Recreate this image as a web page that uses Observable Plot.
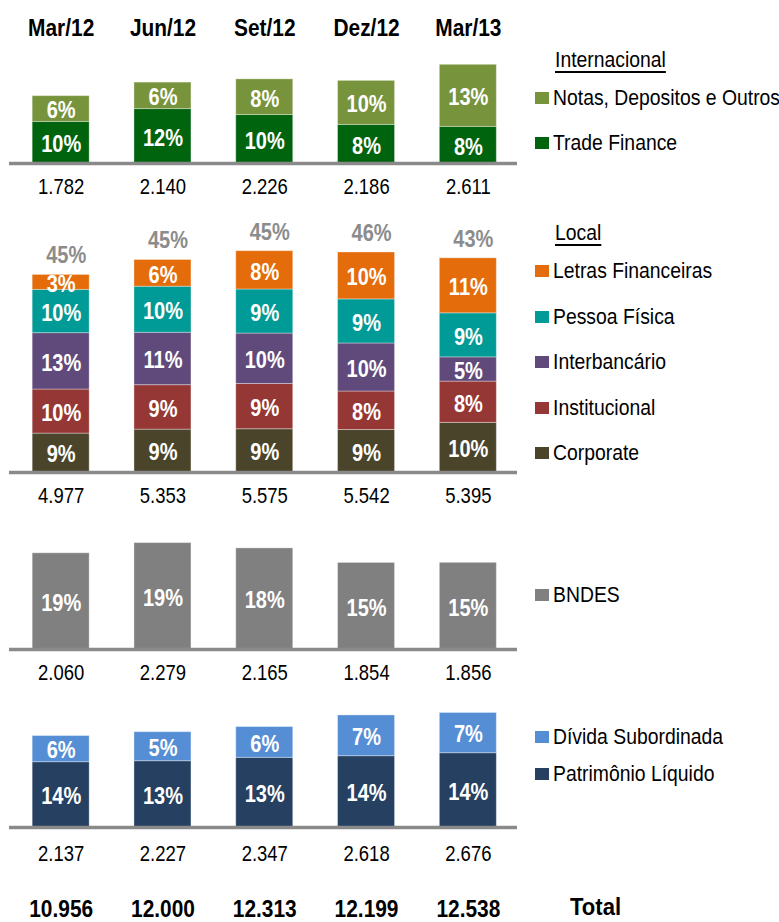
<!DOCTYPE html>
<html>
<head>
<meta charset="utf-8">
<script src="https://cdn.jsdelivr.net/npm/d3@7"></script>
<script src="https://cdn.jsdelivr.net/npm/@observablehq/plot@0.6"></script>
<style>
  html, body { margin: 0; padding: 0; background: #fff; }
  #root { position: relative; width: 779px; height: 922px; overflow: hidden;
    font-family: "Liberation Sans", Arial, sans-serif; color: #000; }
  .panel { position: absolute; left: 0; }
  .leg { position: absolute; left: 535px; font-size: 22px; line-height: 22px; white-space: nowrap; display: flex; align-items: center; }
  .leg .sw { width: 14px; height: 12px; margin-right: 4px; flex: none; }
  .leg .lt { display: inline-block; transform: scaleX(0.88); transform-origin: left center; }
  .legtitle { position: absolute; left: 555px; font-size: 22px; line-height: 22px; text-decoration: underline; text-underline-offset: 4px;
    transform: scaleX(0.88); transform-origin: left center; }
  .totlabel { position: absolute; left: 570px; font-size: 24px; font-weight: bold; line-height: 24px;
    transform: scaleX(0.92); transform-origin: left center; }
</style>
</head>
<body>
<div id="root"></div>
<script>
// ---------- data ----------
const periods = ["Mar/12", "Jun/12", "Set/12", "Dez/12", "Mar/13"];
const fundingTotal = [10956, 12000, 12313, 12199, 12538];

// Internacional
const intlSeries = ["Trade Finance", "Notas, Depositos e Outros"];
const tradeFinance = [1100, 1440, 1283, 1021, 969];
const tradeFinancePct = [10, 12, 10, 8, 8];
const notas = [682, 700, 943, 1165, 1642];
const notasPct = [6, 6, 8, 10, 13];
const intlTotal = [1782, 2140, 2226, 2186, 2611];

// Local
const localSeries = ["Corporate", "Institucional", "Interbancário", "Pessoa Física", "Letras Financeiras"];
const corporate = [980, 1080, 1090, 1070, 1250];
const corporatePct = [9, 9, 9, 9, 10];
const institucional = [1110, 1120, 1140, 970, 1040];
const institucionalPct = [10, 9, 9, 8, 8];
const interbancario = [1420, 1320, 1270, 1210, 610];
const interbancarioPct = [13, 11, 10, 10, 5];
const pessoaFisica = [1090, 1160, 1110, 1110, 1110];
const pessoaFisicaPct = [10, 10, 9, 9, 9];
const letras = [377, 673, 965, 1182, 1385];
const letrasPct = [3, 6, 8, 10, 11];
const localTotal = [4977, 5353, 5575, 5542, 5395];
const localPct = [45, 45, 45, 46, 43];

// BNDES
const bndes = [2060, 2279, 2165, 1854, 1856];
const bndesPct = [19, 19, 18, 15, 15];

// Capital
const capitalSeries = ["Patrimônio Líquido", "Dívida Subordinada"];
const patrimonio = [1526, 1549, 1628, 1666, 1736];
const patrimonioPct = [14, 13, 13, 14, 14];
const divida = [611, 678, 719, 952, 940];
const dividaPct = [6, 5, 6, 7, 7];
const capitalTotal = [2137, 2227, 2347, 2618, 2676];

const colors = {
  "Trade Finance": "#00640f",
  "Notas, Depositos e Outros": "#77933c",
  "Corporate": "#4a452a",
  "Institucional": "#953735",
  "Interbancário": "#604a7b",
  "Pessoa Física": "#009b96",
  "Letras Financeiras": "#e46c0a",
  "BNDES": "#808080",
  "Patrimônio Líquido": "#254061",
  "Dívida Subordinada": "#558ed5"
};

// ---------- helpers ----------
const fmt = d3.formatLocale({decimal: ",", thousands: ".", grouping: [3], currency: ["R$", ""]}).format(",d");
const FONT = '"Liberation Sans", Arial, sans-serif';
const root = document.getElementById("root");

function rowsOf(seriesArr) {
  const rows = [];
  seriesArr.forEach(([name, vals, pcts]) => {
    periods.forEach((p, i) => rows.push({period: p, series: name, value: vals[i], pct: pcts[i]}));
  });
  return rows;
}

// condense texts (narrow typeface look)
function condense(svg) {
  svg.querySelectorAll("text").forEach(t => {
    const bold = (t.getAttribute("font-weight") || (t.parentNode.getAttribute && t.parentNode.getAttribute("font-weight")) || "") === "bold";
    const w = t.getComputedTextLength();
    if (w > 0) {
      t.setAttribute("textLength", (w * (bold ? 0.87 : 0.84)).toFixed(2));
      t.setAttribute("lengthAdjust", "spacingAndGlyphs");
    }
  });
}

function panel({rows, order, top, height, baseline, scale, totals, totalDy, extraMarks = [], marginTop = 0}) {
  const yb = baseline - top;
  const totalRows = periods.map((p, i) => ({period: p, total: totals[i]}));
  const plot = Plot.plot({
    width: 540,
    height,
    marginLeft: 9,
    marginRight: 23,
    marginTop,
    marginBottom: 0,
    style: {background: "transparent", fontFamily: FONT, overflow: "visible"},
    x: {domain: periods, range: [0, 528.5], paddingInner: 0.44, paddingOuter: 0.316, round: false, axis: null},
    y: {domain: [0, 1000], range: [yb, yb - 1000 * scale], axis: null},
    color: {domain: Object.keys(colors), range: Object.values(colors)},
    marks: [
      Plot.barY(rows, Plot.stackY({x: "period", y: "value", z: "series", fill: "series", order, stroke: "#ffffff", strokeOpacity: 0.35, strokeWidth: 1})),
      Plot.text(rows, Plot.stackY({x: "period", y: "value", z: "series", order, text: d => d.pct + "%", fill: "white", fontWeight: "bold", fontSize: 23, dy: 2})),
      Plot.ruleY([0], {stroke: "#8a8a8a", strokeWidth: 3.5}),
      Plot.text(totalRows, {x: "period", y: 0, text: d => fmt(d.total), fontSize: 22, fill: "#000", dy: totalDy}),
      ...extraMarks
    ]
  });
  plot.classList.add("panel");
  plot.style.top = top + "px";
  root.appendChild(plot);
  condense(plot);
}

// Panel 1: Internacional (with period headers)
panel({
  rows: rowsOf([["Trade Finance", tradeFinance, tradeFinancePct], ["Notas, Depositos e Outros", notas, notasPct]]),
  order: intlSeries, top: 0, height: 200, baseline: 163, scale: 0.0378, totals: intlTotal, totalDy: 23,
  marginTop: 28,
  extraMarks: [
    Plot.text(periods, {x: d => d, frameAnchor: "top", text: d => d, fontWeight: "bold", fontSize: 24, fill: "#000", lineAnchor: "middle"})
  ]
});

// Panel 2: Local (with share of total above)
panel({
  rows: rowsOf([
    ["Corporate", corporate, corporatePct],
    ["Institucional", institucional, institucionalPct],
    ["Interbancário", interbancario, interbancarioPct],
    ["Pessoa Física", pessoaFisica, pessoaFisicaPct],
    ["Letras Financeiras", letras, letrasPct]
  ]),
  order: localSeries, top: 200, height: 310, baseline: 472, scale: 0.0397, totals: localTotal, totalDy: 23,
  extraMarks: [
    Plot.text(periods.map((p, i) => ({period: p, total: localTotal[i], pct: localPct[i]})),
      {x: "period", y: "total", text: d => d.pct + "%", fill: "#8c8c8c", fontWeight: "bold", fontSize: 23, dy: -19, dx: 5})
  ]
});

// Panel 3: BNDES
panel({
  rows: rowsOf([["BNDES", bndes, bndesPct]]),
  order: ["BNDES"], top: 510, height: 180, baseline: 649, scale: 0.0467, totals: bndes, totalDy: 23
});

// Panel 4: Capital (with overall totals)
panel({
  rows: rowsOf([["Patrimônio Líquido", patrimonio, patrimonioPct], ["Dívida Subordinada", divida, dividaPct]]),
  order: capitalSeries, top: 690, height: 232, baseline: 827, scale: 0.0428, totals: capitalTotal, totalDy: 26,
  extraMarks: [
    Plot.text(periods.map((p, i) => ({period: p, total: fundingTotal[i]})),
      {x: "period", y: 0, text: d => fmt(d.total), fontWeight: "bold", fontSize: 24, fill: "#000", dy: 82})
  ]
});

// ---------- legends ----------
function legTitle(text, y) {
  const d = document.createElement("div");
  d.className = "legtitle"; d.textContent = text; d.style.top = (y - 11) + "px";
  root.appendChild(d);
}
function legItem(name, y) {
  const d = document.createElement("div");
  d.className = "leg"; d.style.top = (y - 11) + "px";
  const s = document.createElement("span"); s.className = "sw"; s.style.background = colors[name];
  const t = document.createElement("span"); t.className = "lt"; t.textContent = name;
  d.appendChild(s); d.appendChild(t); root.appendChild(d);
}
legTitle("Internacional", 60);
legItem("Notas, Depositos e Outros", 98);
legItem("Trade Finance", 143);
legTitle("Local", 233);
legItem("Letras Financeiras", 271);
legItem("Pessoa Física", 317);
legItem("Interbancário", 362);
legItem("Institucional", 408);
legItem("Corporate", 453);
legItem("BNDES", 595);
legItem("Dívida Subordinada", 737);
legItem("Patrimônio Líquido", 774);
const tl = document.createElement("div");
tl.className = "totlabel"; tl.textContent = "Total"; tl.style.top = "895px";
root.appendChild(tl);
</script>
</body>
</html>
